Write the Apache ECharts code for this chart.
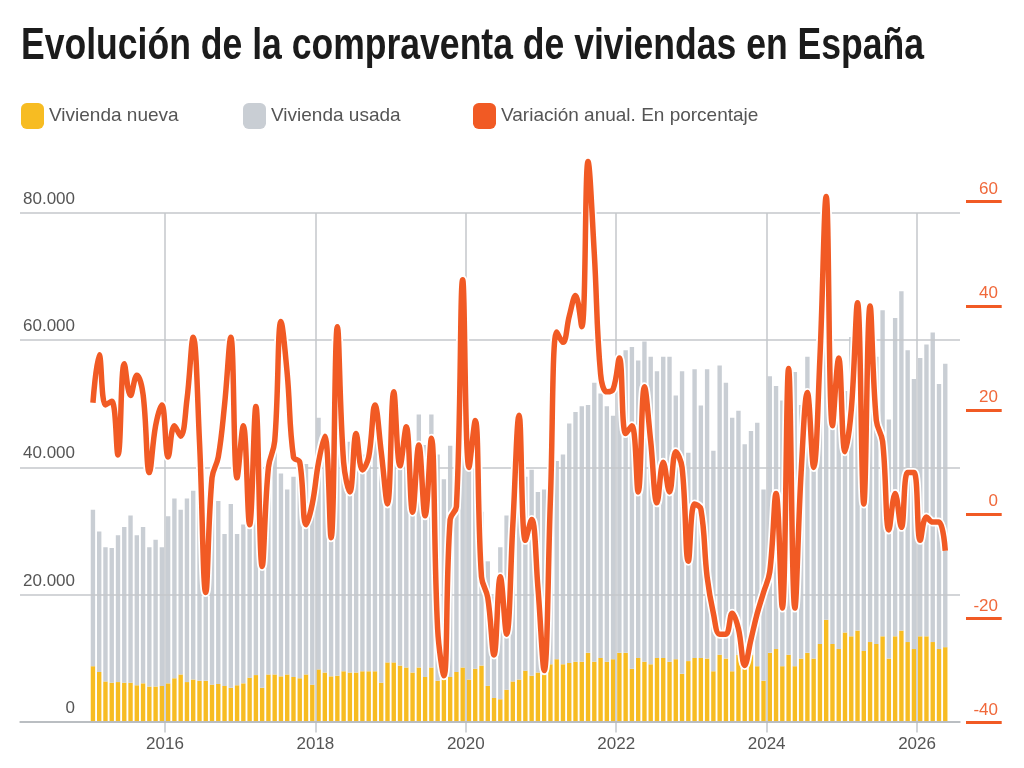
<!DOCTYPE html>
<html><head><meta charset="utf-8">
<script src="https://cdn.jsdelivr.net/npm/echarts@6.0.0/dist/echarts.min.js"></script>
<style>html,body{margin:0;padding:0;background:#fff}#c{width:1024px;height:768px}</style>
</head><body><div id="c"></div>
<script>
const titleText = 'Evolución de la compraventa de viviendas en España';
const seriesNames = ['Vivienda nueva', 'Vivienda usada', 'Variación anual. En porcentaje'];
const firstYear = 2015;
const monthCount = 137; // Jan 2015 - May 2026
const months = [];
for (let k = 0; k < monthCount; k++) {
  const y = firstYear + Math.floor(k / 12), m = k % 12 + 1;
  months.push(y + '-' + (m < 10 ? '0' : '') + m);
}
const yearTicks = [2016, 2018, 2020, 2022, 2024, 2026];
const leftTicks = [0, 20000, 40000, 60000, 80000];
const rightTicks = [-40, -20, 0, 20, 40, 60];

const viviendaNueva = [
  8700, 7800, 6300, 6100, 6200, 6100, 6100, 5700, 6000, 5500, 5500, 5600,
  6000, 6800, 7400, 6200, 6600, 6400, 6400, 5800, 5900, 5600, 5300, 5700,
  6000, 6900, 7300, 5300, 7400, 7400, 7100, 7400, 7000, 6800, 7400, 5800,
  8200, 7700, 7100, 7200, 7900, 7700, 7700, 7900, 7900, 7900, 6100, 9300,
  9300, 8800, 8500, 7700, 8500, 7000, 8500, 6400, 7700, 7000, 7800, 8500,
  6600, 8300, 8800, 5600, 3700, 3500, 5000, 6300, 6600, 8000, 7200, 7700,
  7300, 9000, 9800, 9000, 9200, 9400, 9400, 10800, 9400, 10000, 9400, 9800,
  10800, 10800, 8300, 10000, 9400, 9000, 10000, 10000, 9400, 9800, 7500, 9500,
  10000, 10000, 9900, 7900, 10500, 9900, 7900, 10500, 8500, 10500, 8700, 6400,
  10800, 11400, 8700, 10500, 8700, 9900, 10800, 9900, 12200, 16000, 12200, 11400,
  14000, 13400, 14300, 11100, 12500, 12200, 13400, 9900, 13400, 14300, 12500, 11400,
  13400, 13400, 12500, 11400, 11700
];
const viviendaUsada = [
  24600, 22100, 21100, 21200, 23100, 24500, 26300, 23600, 24600, 21900, 23100, 21800,
  26300, 28300, 25900, 28900, 29700, 30600, 28100, 29200, 28800, 23900, 28900, 23800,
  25000, 26600, 29200, 28200, 34100, 35600, 31900, 29100, 31500, 34700, 33100, 30700,
  39600, 33800, 35400, 36300, 37600, 36300, 36800, 34100, 32600, 38600, 38400, 32700,
  35200, 33700, 35500, 35300, 39800, 36500, 39800, 35600, 30400, 36400, 32200, 36500,
  36400, 32700, 24200, 19600, 16000, 23900, 27400, 24200, 29400, 30500, 32400, 28400,
  29200, 30500, 31200, 33000, 37700, 39300, 40200, 39000, 43900, 41600, 40200, 38300,
  45500, 47600, 50600, 46800, 50400, 48400, 45100, 47400, 48000, 41500, 47600, 32800,
  45400, 39700, 45500, 34700, 45500, 43400, 39900, 38400, 35100, 35200, 38300, 30100,
  43500, 41400, 41800, 37000, 46300, 39900, 46600, 39900, 45800, 43500, 44300, 46000,
  38000, 47100, 41700, 50900, 47800, 45200, 51300, 37600, 50100, 53400, 45900, 42500,
  43800, 45900, 48700, 41700, 44600
];
const variacionAnual = [
  21.4, 30.6, 21, 21.7, 11.4, 28.9, 22.8, 26.7, 23, 8, 17, 21,
  11, 17, 15, 22, 34, 14, -15, 7, 11, 21, 34, 7,
  17, -2, 20.7, -10, 9, 14, 37, 27, 11, 10, -2, 2,
  10, 15, -4.5, 36, 10, 4.3, 15.5, 8.5, 11, 21, 12, 2,
  23.5, 9.3, 16.8, 0.4, 13.3, -0.3, 14.6, -22, -31, -1, 1.5, 45,
  9, 18, -12, -16, -27, -12, -23, -2, 19, -5, -1, -14,
  -30, 3, 35, 33, 38, 42, 36, 67.7, 50, 27, 23.5, 24,
  30, 15.5, 17, 4.3, 24.5, 14, 2.2, 10, 4.3, 12, 9, -9,
  2, 1, -12, -19, -23, -23, -19, -22, -29, -24, -19, -15,
  -11, 4, -18, 28, -18, 8, 23.4, 9, 30, 61, 17, 30,
  12, 20, 40.6, 2, 40, 18, 14, -3, 4, -2.5, 8, 8,
  -5, -0.5, -1.5, -1.5, -7
];

function hasFont(name) {
  const ctx = document.createElement('canvas').getContext('2d');
  const s = 'abcdefghijklmnopqrstuvwxyzABCDEFGHIJ0123456789';
  ctx.font = '40px monospace';
  const a = ctx.measureText(s).width;
  ctx.font = '40px "' + name + '", monospace';
  const b = ctx.measureText(s).width;
  return Math.abs(a - b) > 0.5;
}
const SANS = '"Liberation Sans", Arial, Helvetica, sans-serif';
const NARROW = hasFont('Liberation Sans Narrow');
const titleFamily = NARROW ? '"Liberation Sans Narrow", ' + SANS : SANS;
const titleFont = 'bold 44px ' + titleFamily;
const mctx = document.createElement('canvas').getContext('2d');
mctx.font = titleFont;
const titleScale = 903 / mctx.measureText(titleText).width;
const legendFamily = NARROW ? '"Liberation Sans Narrow", ' + SANS : SANS;
const legendSize = NARROW ? 22 : 19;

// positions of Jan of each tick year, in months from Jan 2015 (band boundaries)
const yearTickPos = yearTicks.map((y) => (y - firstYear) * 12);
const thousands = (v) => String(v).replace(/\B(?=(\d{3})+(?!\d))/g, '.');

const GRID_COLOR = '#c4c7cb';
const ORANGE = '#F15A24';
const YELLOW = '#F7BC22';
const GREY = '#C9CED4';

const chart = echarts.init(document.getElementById('c'));
chart.setOption({
  animation: false,
  backgroundColor: '#fff',
  graphic: [{
    type: 'text', x: 21, y: 25, scaleX: titleScale, scaleY: 1, originX: 0, originY: 0,
    style: { text: titleText, font: titleFont, fill: '#1b1b1b', align: 'left', verticalAlign: 'top' }
  }],
  legend: seriesNames.map((n, k) => ({
    data: [n], left: [21, 243, 473][k], top: 103, padding: 0, icon: 'roundRect',
    itemWidth: 23, itemHeight: 26, itemGap: 0,
    textStyle: { fontSize: legendSize, color: '#555', fontFamily: legendFamily }
  })),
  grid: [
    { left: 89.8, right: 75.6, top: 213, bottom: 46.5, outerBoundsMode: 'none' },
    { left: 20, right: 64, top: 213, bottom: 46.5, outerBoundsMode: 'none' },
    { left: 89.8, right: 75.6, top: 201.7, bottom: 45.3, outerBoundsMode: 'none' }
  ],
  xAxis: [
    { gridIndex: 0, type: 'category', data: months, boundaryGap: true, show: false, position: 'bottom' },
    {
      gridIndex: 1, type: 'value', min: 0, max: 1, z: 4, position: 'bottom',
      axisLine: { show: true, lineStyle: { color: '#b3b6ba', width: 1.5 } },
      axisTick: { show: false }, axisLabel: { show: false }, splitLine: { show: false }
    },
    { gridIndex: 2, type: 'category', data: months, boundaryGap: true, show: false, position: 'bottom' },
    {
      gridIndex: 0, type: 'value', min: 0, max: monthCount, z: 3, position: 'bottom', offset: 0,
      axisLine: { show: true, lineStyle: { color: 'rgba(0,0,0,0)', width: 1 } },
      axisTick: { show: true, inside: false, customValues: yearTickPos, length: 11, lineStyle: { color: GRID_COLOR, width: 1.5 } },
      axisLabel: { customValues: yearTickPos, formatter: (v) => String(firstYear + Math.round(v / 12)),
        color: '#555', fontSize: 17, fontFamily: SANS, margin: 14 },
      splitLine: { show: true, lineStyle: { color: GRID_COLOR, width: 1.5 } }
    }
  ],
  yAxis: [
    { gridIndex: 0, type: 'value', min: leftTicks[0], max: leftTicks[leftTicks.length - 1], show: false },
    {
      gridIndex: 1, type: 'value', min: leftTicks[0], max: leftTicks[leftTicks.length - 1],
      interval: leftTicks[1] - leftTicks[0], z: 3,
      axisLine: { show: false }, axisTick: { show: false },
      axisLabel: { inside: true, align: 'right', verticalAlign: 'bottom', margin: 55, padding: [0, 0, 5, 0],
        color: '#555', fontSize: 17, fontFamily: SANS, formatter: thousands },
      splitLine: { show: true, lineStyle: { color: GRID_COLOR, width: 1.5 } }
    },
    {
      gridIndex: 2, type: 'value', position: 'right', offset: 17.6,
      min: rightTicks[0], max: rightTicks[rightTicks.length - 1], interval: rightTicks[1] - rightTicks[0],
      axisLine: { show: false },
      axisTick: { show: true, length: 35.7, lineStyle: { color: ORANGE, width: 3 } },
      axisLabel: { color: '#F0683A', fontSize: 17, fontFamily: SANS, align: 'right', verticalAlign: 'bottom',
        margin: 32, padding: [0, 0, 4, 0] },
      splitLine: { show: false }
    }
  ],
  series: [
    { name: seriesNames[0], type: 'bar', xAxisIndex: 0, yAxisIndex: 0, stack: 'ventas', data: viviendaNueva,
      barWidth: '70%', itemStyle: { color: YELLOW } },
    { name: seriesNames[1], type: 'bar', xAxisIndex: 0, yAxisIndex: 0, stack: 'ventas', data: viviendaUsada,
      barWidth: '70%', itemStyle: { color: GREY } },
    { name: 'contorno', type: 'line', xAxisIndex: 2, yAxisIndex: 2, data: variacionAnual, smooth: 0.4,
      symbol: 'none', clip: false, silent: true, z: 4, lineStyle: { color: '#ffffff', width: 9 }, itemStyle: { color: '#ffffff' } },
    { name: seriesNames[2], type: 'line', xAxisIndex: 2, yAxisIndex: 2, data: variacionAnual, smooth: 0.4,
      symbol: 'none', clip: false, z: 5, lineStyle: { color: ORANGE, width: 5.5 }, itemStyle: { color: ORANGE } }
  ]
});
</script>
</body></html>
